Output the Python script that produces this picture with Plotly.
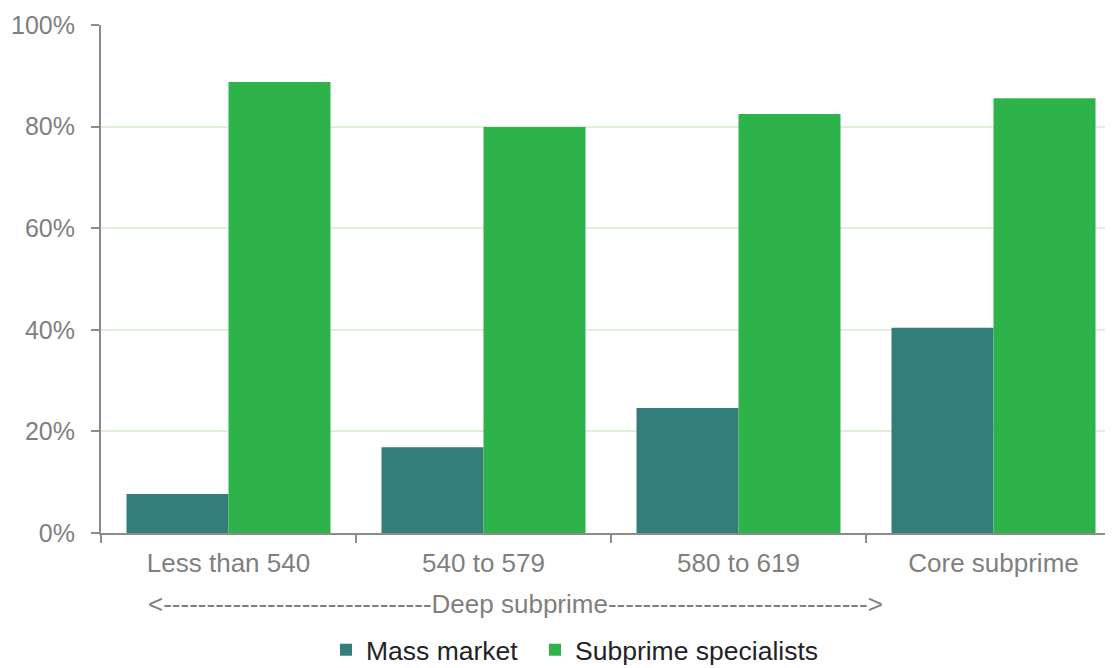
import plotly.graph_objects as go

categories = ["Less than 540", "540 to 579", "580 to 619", "Core subprime"]
mass_market = [7.7, 16.9, 24.6, 40.4]
subprime_specialists = [88.8, 79.9, 82.5, 85.6]
y_ticks = [0, 20, 40, 60, 80, 100]
y_tick_labels = ["0%", "20%", "40%", "60%", "80%", "100%"]
bracket_label = "<" + "-" * 31 + "Deep subprime" + "-" * 30 + ">"

GRAY = "#7f7f7f"
AXIS = "#8c8c8c"
FS = 26
LEG_Y = (668 - 642) / 668

# page is rendered with an 8px body margin; offsets compensate for it
fig = go.Figure()
fig.add_trace(go.Bar(x=categories, y=mass_market, name="Mass market",
                     marker=dict(color="#337d7a", line=dict(width=0)),
                     legend="legend"))
fig.add_trace(go.Bar(x=categories, y=subprime_specialists, name="Subprime specialists",
                     marker=dict(color="#2eb34b", line=dict(width=0)),
                     legend="legend2"))

leg_common = dict(orientation="h", xref="container", yref="container",
                  xanchor="left", yanchor="middle", y=LEG_Y,
                  font=dict(size=26.5, color="#1f2328"), itemwidth=30,
                  bgcolor="rgba(0,0,0,0)")

fig.update_layout(
    width=1113, height=668,
    margin=dict(l=93, r=0, t=17, b=143, autoexpand=False),
    paper_bgcolor="white", plot_bgcolor="white",
    barmode="group", bargap=0.2, bargroupgap=0,
    font=dict(family="Liberation Sans, Arial, sans-serif", size=FS, color=GRAY),
    showlegend=True,
    legend=dict(x=(340 - 8 - 14) / 1113, **leg_common),
    legend2=dict(x=(549 - 8 - 14) / 1113, **leg_common),
    xaxis=dict(range=[-0.5, 3.5], showline=True, linecolor=AXIS, linewidth=2,
               ticks="outside", tickson="boundaries", ticklen=8, tickcolor=AXIS,
               tickwidth=2, showgrid=False, tickfont=dict(size=FS, color=GRAY),
               ticklabelstandoff=6, automargin=False, fixedrange=True),
    yaxis=dict(range=[0, 100], tickvals=y_ticks, ticktext=y_tick_labels,
               showline=True, linecolor=AXIS, linewidth=2, ticks="outside",
               ticklen=8, tickcolor=AXIS, tickwidth=2, showgrid=True,
               gridcolor="#dff0d8", gridwidth=2, zeroline=False,
               tickfont=dict(size=25, color=GRAY), ticklabelstandoff=11,
               automargin=False, fixedrange=True),
    annotations=[dict(text=bracket_label, xref="paper", yref="paper",
                      x=(515 - 101) / 1020, y=-71 / 508,
                      xanchor="center", yanchor="middle", showarrow=False,
                      font=dict(size=FS, color=GRAY))],
)

fig.write_html("out.html")
